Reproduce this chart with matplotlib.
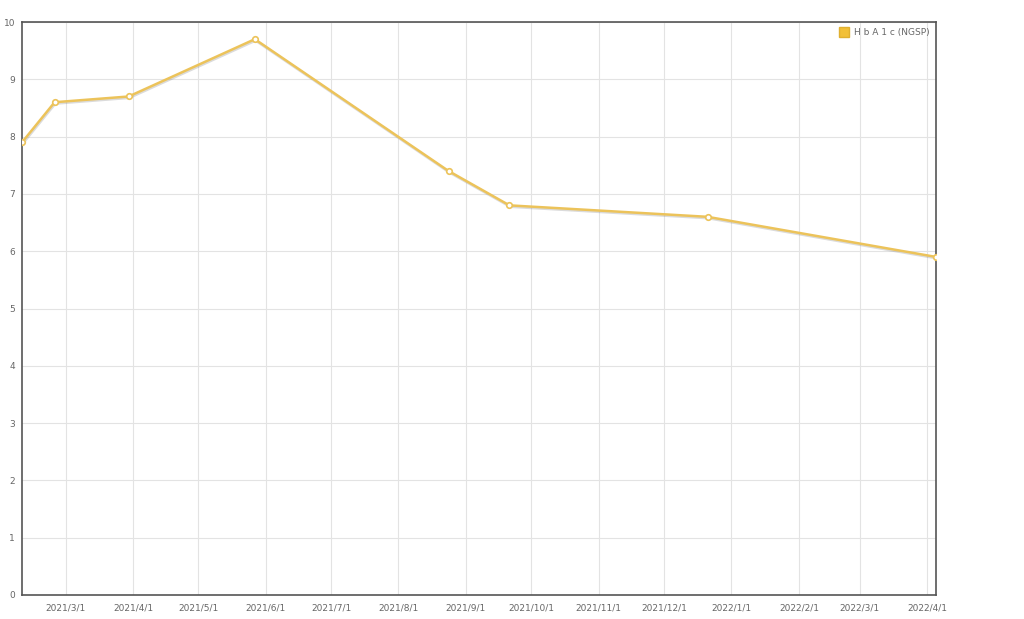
import numpy as np
import pandas as pd
import matplotlib
matplotlib.use('Agg')
import matplotlib.pyplot as plt
import matplotlib.dates as mdates
import matplotlib.patheffects as pe
from matplotlib.lines import Line2D

# HbA1c (NGSP) readings
dates = pd.to_datetime(['2021-02-09', '2021-02-24', '2021-03-30', '2021-05-27',
                        '2021-08-24', '2021-09-21', '2021-12-21', '2022-04-05'])
values = [7.9, 8.6, 8.7, 9.7, 7.4, 6.8, 6.6, 5.9]
series_label = 'H b A 1 c (NGSP)'
y_ticks = list(range(0, 11))

line_color = '#ecc35a'
text_color = '#666666'

fig = plt.figure(figsize=(10.24, 6.19), dpi=100)
ax = fig.add_axes([22 / 1024, 24 / 619, (936 - 22) / 1024, (595 - 22) / 619])

ax.plot(dates, values, color=line_color, lw=1.8, zorder=3,
        path_effects=[pe.SimpleLineShadow(offset=(0.5, -1), shadow_color='#888888', alpha=0.3),
                      pe.Normal()])
ax.plot(dates, values, linestyle='none', marker='o', ms=4, mfc='white',
        mec=line_color, mew=1.2, zorder=4)

ax.set_xlim(dates[0], dates[-1])
ax.set_ylim(0, 10)
ax.set_yticks(y_ticks)

ax.xaxis.set_major_locator(mdates.MonthLocator())
ax.xaxis.set_major_formatter(plt.FuncFormatter(
    lambda x, pos: '{0.year}/{0.month}/{0.day}'.format(mdates.num2date(x))))

ax.grid(True, color='#e3e3e3', lw=0.8)
ax.set_axisbelow(True)
ax.tick_params(length=0, labelsize=6.5, colors=text_color, pad=6)
ax.tick_params(axis='y', pad=5)
for s in ax.spines.values():
    s.set_color('#555555')
    s.set_linewidth(1.2)

handle = Line2D([], [], linestyle='none', marker='s', ms=7, mfc='#f2c037', mec='#e0b030')
leg = ax.legend([handle], [series_label], loc='upper right', frameon=False,
                fontsize=6.5, handletextpad=0.6, borderaxespad=0.3, handlelength=1)
for t in leg.get_texts():
    t.set_color(text_color)

fig.savefig('out.png', dpi=100)
